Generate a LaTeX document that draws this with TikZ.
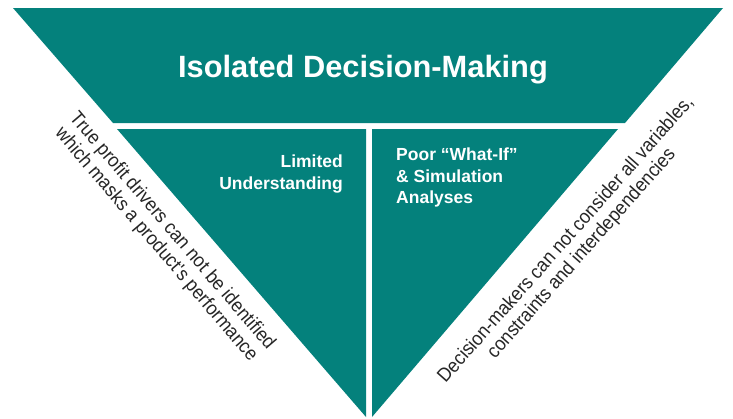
\documentclass[tikz,border=0pt]{standalone}
\usepackage{fontspec}
\setmainfont{Liberation Sans}
\newfontfamily\narrowfont[FakeStretch=0.92]{Liberation Sans}
\definecolor{tealfill}{RGB}{4,129,124}
\tikzset{
  panel/.style={fill=tealfill, draw=none},
  headtext/.style={text=white, font=\bfseries\fontsize{30.8}{36}\selectfont, inner sep=0},
  celltext/.style={text=white, font=\bfseries\fontsize{17.5}{21.5}\selectfont, inner sep=0},
  sidetext/.style={text=black!85, font=\narrowfont\fontsize{19.5}{21}\selectfont, inner sep=0, align=center}
}
\begin{document}
\begin{tikzpicture}[x=1pt, y=-1pt]
\useasboundingbox (0,0) rectangle (733,418);

% top band and the two lower halves
\fill[panel] (13,8) -- (723,8) -- (625,123) -- (113,123) -- cycle;
\fill[panel] (117,129) -- (366,129) -- (366,417) -- cycle;
\fill[panel] (372,129) -- (618,129) -- (372,417) -- cycle;

\node[headtext, anchor=base] (head) at (363,77) {Isolated Decision-Making};

\node[celltext, align=right, anchor=north east] (limited) at (343,155) {Limited\\Understanding};
\node[celltext, align=left, anchor=north west] (whatif) at (396,148) {Poor ``What-If''\\\& Simulation\\Analyses};

\node[sidetext, rotate=-49.5] (leftnote) at (164,238) {True profit drivers can not be identified\\which masks a product's performance};
\node[sidetext, rotate=48.5] (rightnote) at (574,247) {Decision-makers can not consider all variables,\\constraints and interdependencies};

\end{tikzpicture}
\end{document}
